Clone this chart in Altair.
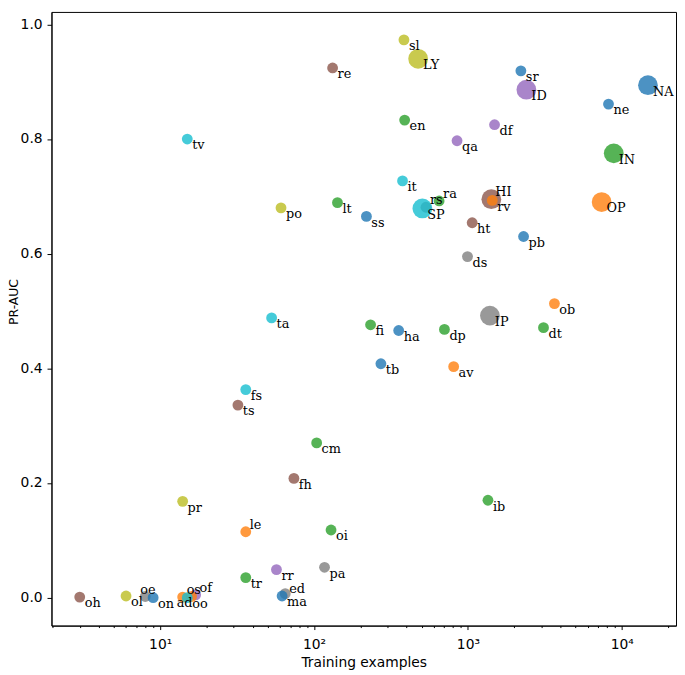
import altair as alt
import pandas as pd

# ---- data ----
names = ["sl", "LY", "re", "sr", "ID", "NA", "ne", "en", "df", "qa",
         "tv", "IN", "it", "ra", "HI", "rv", "lt", "rs", "SP", "ss",
         "ht", "pb", "OP", "po", "ds", "ob", "IP", "ta", "fi", "dt",
         "ha", "dp", "tb", "av", "fs", "ts", "cm", "fh", "ib", "pr",
         "le", "oi", "pa", "rr", "tr", "ed", "ma", "oh", "ol", "oe",
         "on", "of", "ad", "os", "oo"]
training_examples = [384, 475, 132, 2210, 2400, 14800, 8200, 388, 1490, 850,
                     15, 8870, 376, 650, 1420, 1440, 142, 534, 506, 219,
                     1066, 2300, 7400, 61, 994, 3650, 1390, 53, 233, 3100,
                     355, 704, 272, 808, 36, 32, 104, 74, 1350, 14,
                     36, 129, 117, 57, 36, 65, 62, 3, 6, 8,
                     9, 17, 14, 16, 15]
pr_auc = [0.973, 0.940, 0.924, 0.919, 0.886, 0.894, 0.861, 0.833, 0.825, 0.797,
          0.800, 0.775, 0.727, 0.692, 0.695, 0.693, 0.689, 0.681, 0.679, 0.665,
          0.654, 0.630, 0.690, 0.680, 0.595, 0.513, 0.492, 0.488, 0.476, 0.471,
          0.466, 0.468, 0.408, 0.403, 0.363, 0.336, 0.270, 0.208, 0.170, 0.168,
          0.115, 0.118, 0.053, 0.049, 0.035, 0.007, 0.003, 0.001, 0.003, 0.002,
          0.000, 0.005, 0.001, 0.002, 0.000]
group = ["olive", "olive", "brown", "blue", "purple", "blue", "blue", "green", "purple", "purple",
         "cyan", "green", "cyan", "green", "brown", "orange", "green", "gray", "cyan", "blue",
         "brown", "blue", "orange", "olive", "gray", "orange", "gray", "cyan", "green", "green",
         "blue", "green", "blue", "orange", "cyan", "brown", "green", "brown", "green", "olive",
         "orange", "green", "gray", "purple", "green", "gray", "blue", "brown", "olive", "gray",
         "blue", "purple", "orange", "orange", "cyan"]

all_ticks = [2, 3, 4, 5, 6, 7, 8, 9, 10,
             20, 30, 40, 50, 60, 70, 80, 90, 100,
             200, 300, 400, 500, 600, 700, 800, 900, 1000,
             2000, 3000, 4000, 5000, 6000, 7000, 8000, 9000, 10000,
             20000]
y_ticks = [0.0, 0.2, 0.4, 0.6, 0.8, 1.0]

# label placement groups (like adjusted text in the original)
labels_above = ["ra", "HI", "le", "of", "rs"]
labels_above_close = ["ed"]
labels_above_left = ["oe", "os"]
labels_below_left = ["ad"]

palette_names = ["blue", "orange", "green", "purple", "brown", "gray", "olive", "cyan"]
palette_colors = ["#1f77b4", "#ff7f0e", "#2ca02c", "#9467bd", "#8c564b", "#7f7f7f", "#bcbd22", "#17becf"]

df = pd.DataFrame({"name": names, "n": training_examples, "auc": pr_auc, "grp": group})


def place_of(nm):
    if nm in labels_above:
        return "above"
    if nm in labels_above_close:
        return "above_close"
    if nm in labels_above_left:
        return "above_left"
    if nm in labels_below_left:
        return "below_left"
    return "below"


df["place"] = df["name"].map(place_of)

major_test = "datum.value == 10 || datum.value == 100 || datum.value == 1000 || datum.value == 10000"

x_enc = alt.X(
    "n:Q",
    scale=alt.Scale(type="log", domain=[1.966, 22520], nice=False),
    axis=alt.Axis(
        values=all_ticks,
        labelExpr="datum.value == 10 ? '10¹' : datum.value == 100 ? '10²' : datum.value == 1000 ? '10³' : datum.value == 10000 ? '10⁴' : ''",
        tickSize={"condition": {"test": major_test, "value": 4}, "value": 2},
        labelPadding=8,
        labelFontSize=14,
        titleFontSize=14,
        titlePadding=4,
        labelFlush=False,
        labelOverlap=False,
    ),
    title="Training examples",
)
y_enc = alt.Y(
    "auc:Q",
    scale=alt.Scale(domain=[-0.0487, 1.0217], nice=False, zero=False),
    axis=alt.Axis(
        values=y_ticks,
        format=".1f",
        tickSize=4.5,
        labelPadding=5,
        labelFontSize=14,
        titleFontSize=12.5,
        titleX=-34,
        titleY=293,
        titleBaseline="alphabetic",
    ),
    title="PR-AUC",
)

points = alt.Chart(df).mark_circle(opacity=0.8, stroke=None).encode(
    x=x_enc,
    y=y_enc,
    color=alt.Color("grp:N", scale=alt.Scale(domain=palette_names, range=palette_colors), legend=None),
    size=alt.condition("upper(datum.name) == datum.name", alt.value(400), alt.value(120)),
    order=alt.Order("idx:Q"),
).transform_window(idx="row_number()")


def text_layer(place, dx, dy):
    return alt.Chart(df).transform_filter(alt.datum.place == place).mark_text(
        align="left", baseline="middle", dx=dx, dy=dy,
        font="DejaVu Serif", fontSize=13, color="black",
    ).encode(x=x_enc, y=y_enc, text="name:N")


chart = alt.layer(
    points,
    text_layer("below", 5, 6.5),
    text_layer("above", 4, -7),
    text_layer("above_close", 4, -5),
    text_layer("above_left", -5, -7),
    text_layer("below_left", -6, 6.5),
).properties(
    width=632,
    height=621,
    autosize=alt.AutoSizeParams(type="none"),
    padding={"left": 44, "top": 0, "right": 1, "bottom": 46},
    background="white",
).configure_view(
    stroke="black", strokeWidth=1
).configure_axis(
    grid=False,
    domainColor="black",
    tickColor="black",
    labelColor="black",
    titleColor="black",
    labelFont="DejaVu Sans",
    titleFont="DejaVu Sans",
    titleFontWeight="normal",
)

chart.save("out.html", embed_options={"renderer": "svg", "actions": False})
